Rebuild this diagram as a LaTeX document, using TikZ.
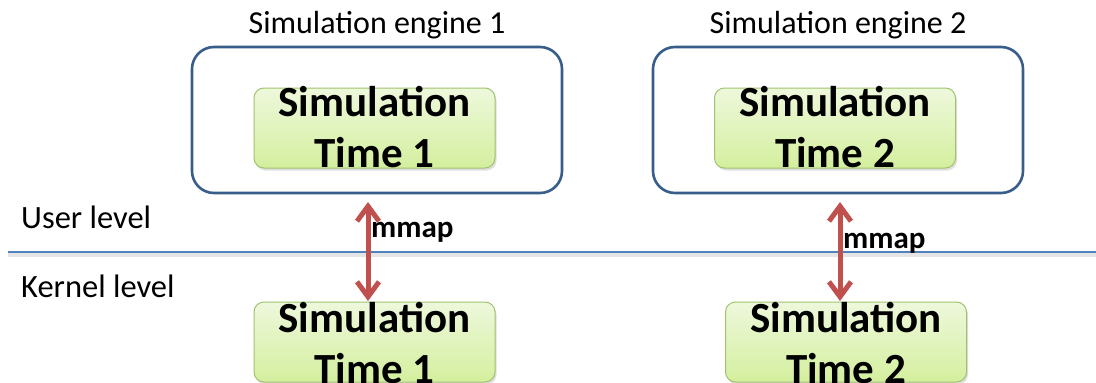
\documentclass[tikz,border=0pt]{standalone}
\usepackage{fontspec}
\setmainfont{Carlito}
\usetikzlibrary{arrows.meta,shadows}
\definecolor{outerblue}{RGB}{56,93,138}
\definecolor{lineblue}{RGB}{79,129,189}
\definecolor{arrred}{RGB}{192,80,77}
\definecolor{gtop}{RGB}{238,248,220}
\definecolor{gbot}{RGB}{212,239,158}
\definecolor{gborder}{RGB}{160,195,110}
\tikzset{
  outerbox/.style={draw=outerblue, line width=2.6pt, rounded corners=22pt, fill=white,
    minimum width=370pt, minimum height=146pt, inner sep=0pt},
  simbox/.style={draw=gborder, line width=1pt, rounded corners=10pt,
    top color=gtop, bottom color=gbot,
    drop shadow={shadow xshift=1.5pt, shadow yshift=-2.5pt, opacity=0.25},
    minimum width=241pt, minimum height=80pt, inner sep=0pt},
  simtext/.style={font=\fontsize{43}{51}\selectfont\bfseries, inner sep=0pt, anchor=base},
  titletext/.style={font=\fontsize{32}{36}\selectfont, inner sep=0pt, anchor=base},
  leveltext/.style={font=\fontsize{32.5}{36}\selectfont, inner sep=0pt, anchor=base west},
  mmaptext/.style={font=\fontsize{31}{36}\selectfont\bfseries, inner sep=0pt, anchor=base west},
  mmaparrow/.style={draw=arrred, line width=5pt,
    {Straight Barb[length=15pt,width=22pt,line width=5pt]}-{Straight Barb[length=15pt,width=22pt,line width=5pt]}},
}
\begin{document}
\begin{tikzpicture}[x=1pt,y=-1pt]
\useasboundingbox (0,0) rectangle (1096,383);
\clip (0,0) rectangle (1096,383);
% titles
\node[titletext] (t1) at (377,33) {Simulation engine 1};
\node[titletext] (t2) at (838,33) {Simulation engine 2};
% outer boxes
\node[outerbox] (e1) at (377,120) {};
\node[outerbox] (e2) at (838,120) {};
% inner boxes
\node[simbox] (u1) at (374.5,128) {};
\node[simtext] (u1a) at (374.5,116) {Simulation};
\node[simtext] (u1b) at (374.5,167) {Time 1};
\node[simbox] (u2) at (835,128) {};
\node[simtext] (u2a) at (835,116) {Simulation};
\node[simtext] (u2b) at (835,167) {Time 2};
% level line
\coordinate (lL) at (8,252);
\coordinate (lR) at (1096,252);
\draw[line width=4pt, black, opacity=0.10] ([yshift=-2.5pt]lL) -- ([yshift=-2.5pt]lR);
\draw[lineblue, line width=2.8pt] (lL) -- (lR);
\node[leveltext] (ul) at (21,228) {User level};
\node[leveltext] (kl) at (21,297) {Kernel level};
% kernel boxes
\node[simbox] (k1) at (374.5,342) {};
\node[simtext] (k1a) at (374.5,332) {Simulation};
\node[simtext] (k1b) at (374.5,383) {Time 1};
\node[simbox] (k2) at (846,342) {};
\node[simtext] (k2a) at (846,332) {Simulation};
\node[simtext] (k2b) at (846,383) {Time 2};
% arrows
\coordinate (a1t) at (368,202);
\coordinate (a1b) at (368,301);
\coordinate (a2t) at (840,202);
\coordinate (a2b) at (840,301);
\draw[mmaparrow] (a1t) -- (a1b);
\draw[mmaparrow] (a2t) -- (a2b);
\node[mmaptext] (m1) at (371,237) {mmap};
\node[mmaptext] (m2) at (843,248) {mmap};
\end{tikzpicture}
\end{document}
